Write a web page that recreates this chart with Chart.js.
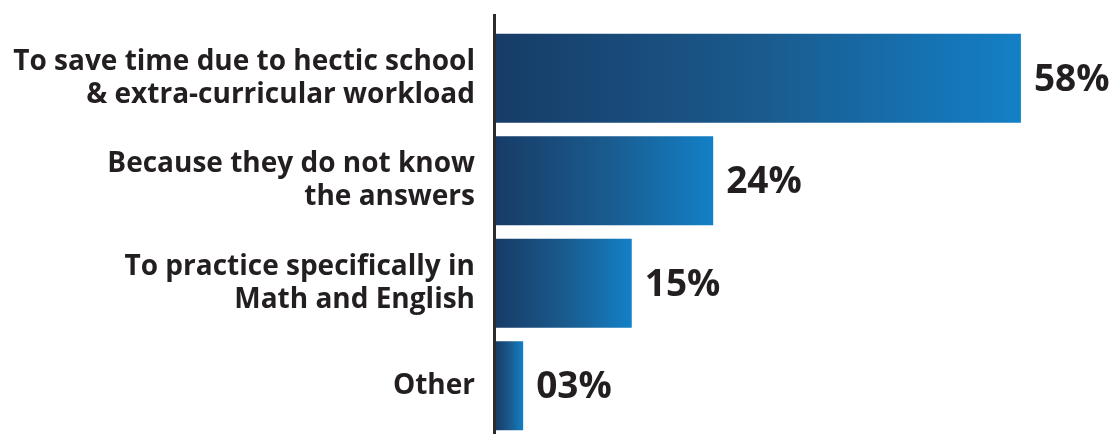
<!DOCTYPE html>
<html>
<head>
<meta charset="utf-8">
<script src="https://cdn.jsdelivr.net/npm/chart.js@4/dist/chart.umd.min.js"></script>
<style>
  html, body { margin: 0; padding: 0; background: #ffffff; overflow: hidden; }
  #wrap { position: relative; width: 1117px; height: 440px; }
</style>
</head>
<body>
<div id="wrap"><canvas id="c" width="1117" height="440"></canvas></div>
<script>
const categories = [
  ["To save time due to hectic school", "& extra-curricular workload"],
  ["Because they do not know", "the answers"],
  ["To practice specifically in", "Math and English"],
  ["Other"]
];
const values = [58, 24, 15, 3];
const valueLabels = ["58%", "24%", "15%", "03%"];

const TEXT = '#231f20';
const FONT = "'Open Sans', 'Noto Sans', sans-serif";

const axisLinePlugin = {
  id: 'axisLine',
  afterDatasetsDraw(chart) {
    const ctx = chart.ctx;
    const x = chart.scales.x.getPixelForValue(0) - 1.5;
    ctx.save();
    ctx.strokeStyle = '#2b2b2b';
    ctx.lineWidth = 3;
    ctx.beginPath();
    ctx.moveTo(x, 14);
    ctx.lineTo(x, 440);
    ctx.stroke();
    ctx.restore();
  }
};

const valueLabelPlugin = {
  id: 'valueLabels',
  afterDatasetsDraw(chart) {
    const ctx = chart.ctx;
    const meta = chart.getDatasetMeta(0);
    ctx.save();
    ctx.fillStyle = TEXT;
    ctx.font = "bold 37px " + FONT;
    ctx.textAlign = 'left';
    ctx.textBaseline = 'middle';
    meta.data.forEach((bar, i) => {
      ctx.fillText(valueLabels[i], bar.x + 13, bar.y + 2);
    });
    ctx.restore();
  }
};

new Chart(document.getElementById('c'), {
  type: 'bar',
  data: {
    labels: categories,
    datasets: [{
      data: values,
      borderWidth: 0,
      backgroundColor(c) {
        const chart = c.chart;
        const xs = chart.scales.x;
        if (!xs || c.dataIndex === undefined) return '#1a5a96';
        const x0 = xs.getPixelForValue(0);
        const x1 = xs.getPixelForValue(values[c.dataIndex]);
        if (!isFinite(x0) || !isFinite(x1) || x1 <= x0) return '#1a5a96';
        const g = chart.ctx.createLinearGradient(x0, 0, x1, 0);
        g.addColorStop(0, '#173c67');
        g.addColorStop(0.5, '#1a5a8d');
        g.addColorStop(1, '#1380c6');
        return g;
      },
      categoryPercentage: 1,
      barPercentage: 0.87
    }]
  },
  options: {
    indexAxis: 'y',
    responsive: false,
    animation: false,
    layout: { padding: { top: 27, bottom: 3, left: 0, right: 78 } },
    plugins: { legend: { display: false }, tooltip: { enabled: false } },
    scales: {
      x: {
        min: 0, max: 60,
        display: false,
        grid: { display: false }
      },
      y: {
        grid: { display: false },
        border: { display: false },
        ticks: {
          color: TEXT,
          font: { family: FONT, size: 28, weight: 'bold', lineHeight: 1.17 },
          padding: 13,
          crossAlign: 'near'
        },
        afterFit(scale) {
          scale.width = 496;
          scale.paddingTop = 0;
          scale.paddingBottom = 0;
        }
      }
    }
  },
  plugins: [axisLinePlugin, valueLabelPlugin]
});
</script>
</body>
</html>
